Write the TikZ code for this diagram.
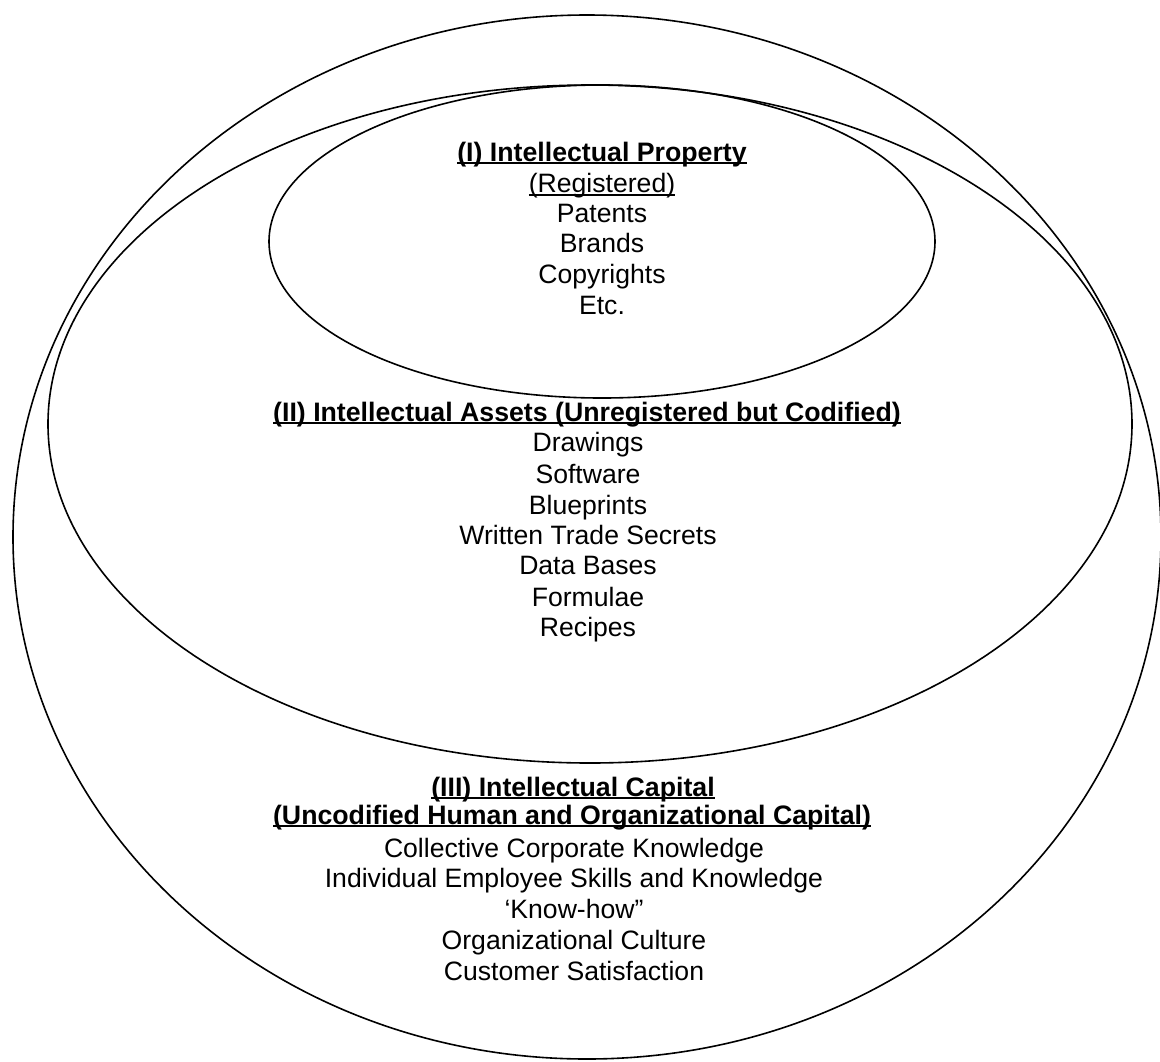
\documentclass[tikz,border=0pt]{standalone}
\usepackage{fontspec}
\setmainfont{Liberation Sans}
\newcommand\myul[1]{\setbox0\hbox{#1}\rlap{\usebox0}\rule[-0.13em]{\wd0}{0.075em}}
\tikzset{
  ring/.style={draw=black,line width=1.6pt},
  txt/.style={anchor=base,inner sep=0pt,font=\fontsize{26.6}{30}\selectfont},
  btxt/.style={txt,font=\fontsize{26.7}{30}\selectfont\bfseries}
}
\begin{document}
\begin{tikzpicture}[x=1pt,y=-1pt]
\useasboundingbox (0,0) rectangle (1160,1061);
% ellipses
\draw[ring] (587,537) ellipse [x radius=574, y radius=522];
\draw[ring] (590,424) ellipse [x radius=542, y radius=339];
\draw[ring] (602,241.5) ellipse [x radius=333, y radius=156.5];
% (I)
\node[btxt] (t1) at (602,161) {\myul{(I) Intellectual Property}};
\node[txt] (r1) at (602,192.5) {\myul{(Registered)}};
\node[txt] (p1) at (602,222) {Patents};
\node[txt] (p2) at (602,252.5) {Brands};
\node[txt] (p3) at (602,283.6) {Copyrights};
\node[txt] (p4) at (602,314) {Etc.};
% (II)
\node[btxt] (t2) at (587,421) {\myul{(II) Intellectual Assets (Unregistered but Codified)}};
\node[txt] (a1) at (588,451.4) {Drawings};
\node[txt] (a2) at (588,483) {Software};
\node[txt] (a3) at (588,514) {Blueprints};
\node[txt] (a4) at (588,544) {Written Trade Secrets};
\node[txt] (a5) at (588,574.6) {Data Bases};
\node[txt] (a6) at (588,606) {Formulae};
\node[txt] (a7) at (588,636) {Recipes};
% (III)
\node[btxt] (t3) at (573,796) {\myul{(III) Intellectual Capital}};
\node[btxt] (t3b) at (572,824) {\myul{(Uncodified Human and Organizational Capital)}};
\node[txt] (c1) at (574,857) {Collective Corporate Knowledge};
\node[txt] (c2) at (574,887) {Individual Employee Skills and Knowledge};
\node[txt] (c3) at (574,918) {‘Know-how”};
\node[txt] (c4) at (574,949) {Organizational Culture};
\node[txt] (c5) at (574,980) {Customer Satisfaction};
\end{tikzpicture}
\end{document}
